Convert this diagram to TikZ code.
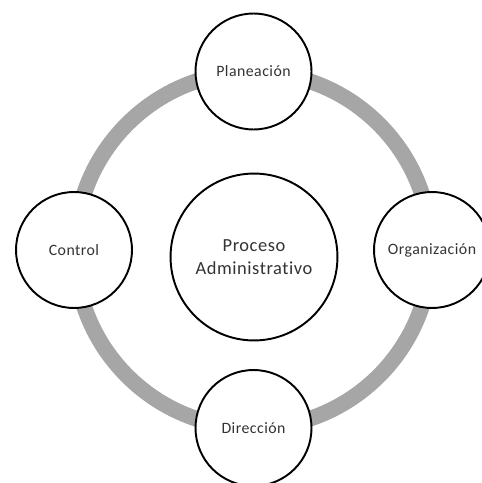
\documentclass[tikz,border=0pt]{standalone}
\usepackage{fontspec}
\setmainfont{Carlito}[Ligatures=NoCommon, LetterSpace=3]
\tikzset{
	etapa/.style={circle, draw=black, line width=1.1pt, fill=white, minimum size=66pt, inner sep=0pt, text=black!80, font=\fontsize{9}{11}\selectfont},
	centro/.style={etapa, minimum size=95pt, align=center, font=\fontsize{10.5}{13}\selectfont},
	anillo/.style={draw=black!35, line width=9pt}
}
\begin{document}
\begin{tikzpicture}[x=0.02cm, y=-0.02cm]
		\useasboundingbox (0,0) rectangle (482,483);
		\clip (0,0) rectangle (482,483);
		\draw[anillo] (253,250) circle (178);
		\node[centro] (proc) at (254,257) {Proceso\\Administrativo};
		\node[etapa] (plan) at (253.5,71.5) {Planeación};
		\node[etapa] (org) at (432,250) {Organización};
		\node[etapa] (dir) at (253.5,428) {Dirección};
		\node[etapa] (ctrl) at (74,250) {Control};
		\end{tikzpicture}
\end{document}
